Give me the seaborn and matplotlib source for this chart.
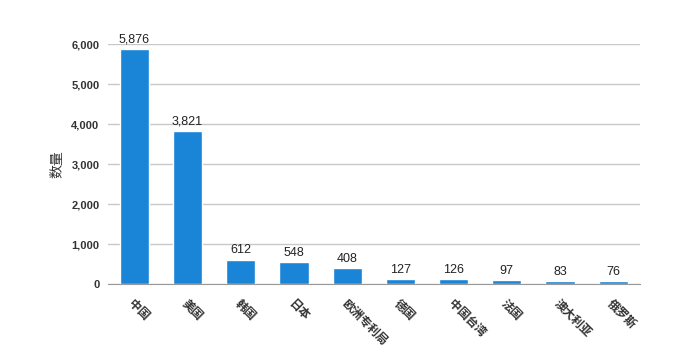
import numpy as np
import pandas as pd
import matplotlib as mpl
mpl.use('Agg')
import matplotlib.pyplot as plt
import seaborn as sns

# data
countries = ['中国', '美国', '韩国', '日本', '欧洲专利局', '德国', '中国台湾', '法国', '澳大利亚', '俄罗斯']
counts = [5876, 3821, 612, 548, 408, 127, 126, 97, 83, 76]
yticks = [0, 1000, 2000, 3000, 4000, 5000, 6000]

df = pd.DataFrame({'country': countries, 'count': counts})

sns.set_style('white')
plt.rcParams['font.family'] = ['Liberation Sans', 'Noto Sans CJK SC', 'DejaVu Sans']

fig = plt.figure(figsize=(7, 3.52), dpi=100)
ax = fig.add_axes([0.154, 0.193, 0.76, 0.682])
sns.barplot(data=df, x='country', y='count', color='#1a85d6', saturation=1,
            width=0.55, ax=ax, zorder=3)

ax.set_ylim(0, 6000)
ax.set_xlim(-0.5, len(countries) - 0.5)
ax.set_yticks(yticks)
ax.set_yticklabels([f'{v:,}' for v in yticks], fontsize=8, color='#333333', fontweight='bold')
ax.yaxis.grid(True, color='#c8c8c8', linewidth=1, zorder=0)
for s in ['left', 'right', 'top']:
    ax.spines[s].set_visible(False)
ax.spines['bottom'].set_color('#999999')
ax.spines['bottom'].set_zorder(4)
ax.tick_params(axis='y', length=0, pad=6)

# category boundary ticks
ax.set_xticks(np.arange(-0.5, len(countries)), minor=True)
ax.tick_params(axis='x', which='minor', length=4, color='#999999', direction='out')
ax.tick_params(axis='x', which='major', length=0, pad=10)
ax.set_xticklabels(countries, rotation=-45, ha='left', va='top', fontsize=8.5,
                   color='#333333', rotation_mode='anchor', fontweight='bold')

for i, v in enumerate(counts):
    ax.text(i, v + 80, f'{v:,}', ha='center', va='bottom', fontsize=9,
            color='#222222', clip_on=False)

ax.set_xlabel('')
ax.set_ylabel('数量', fontsize=10, color='#333333', labelpad=5)

fig.savefig('out.png', dpi=100)
